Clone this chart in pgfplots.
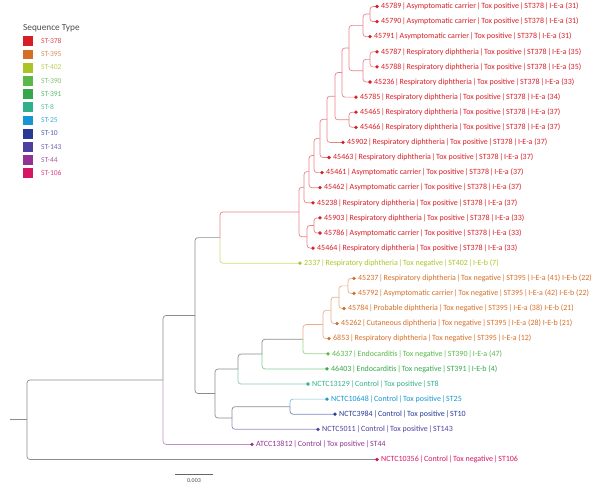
\documentclass[border=0pt]{standalone}
\usepackage{pgfplots}
\pgfplotsset{compat=1.18}
\usepackage{fontspec}
\setmainfont{Carlito}
\definecolor{c378}{RGB}{214,30,38}
\definecolor{c395}{RGB}{214,110,40}
\definecolor{c402}{RGB}{170,196,40}
\definecolor{c390}{RGB}{88,184,72}
\definecolor{c391}{RGB}{52,168,74}
\definecolor{c8}{RGB}{48,176,138}
\definecolor{c25}{RGB}{22,150,210}
\definecolor{c10}{RGB}{40,58,150}
\definecolor{c143}{RGB}{78,64,158}
\definecolor{c44}{RGB}{146,50,148}
\definecolor{c106}{RGB}{214,22,100}
\definecolor{gbr}{RGB}{140,140,140}
\newcommand{\lab}{\fontsize{8}{9}\selectfont}
\newcommand{\p}{\kern0.8bp|\kern0.8bp}
\tikzset{br/.style={line width=0.7pt, rounded corners=3bp}}
% branch: parent x, parent y, child x, child y, colour
\newcommand{\br}[5]{\addplot[br, color=#5] coordinates {(#1,#2) (#1,#4) (#3,#4)};}
% leaf: colour, x, y, label
\newcommand{\leaf}[4]{\addplot[only marks, mark=*, mark size=1.5, color=#1] coordinates {(#2,#3)};
  \node[anchor=west, text=#1, inner sep=0pt, xshift=4bp, font=\lab] at (axis cs:#2,#3) {#4};}
\newcommand{\lgd}[3]{\addplot[only marks, mark=square*, mark size=4.5, color=#1] coordinates {(28,#2)};
  \node[anchor=west, text=#1!80!white, inner sep=0pt, font=\fontsize{7.6}{8.5}\selectfont] at (axis cs:41,#2) {#3};}
\begin{document}
\begin{tikzpicture}
\begin{axis}[
  width=600bp, height=487bp, scale only axis,
  xmin=0, xmax=600, ymin=0, ymax=487, y dir=reverse,
  hide axis, clip=false]
\coordinate (BL) at (axis cs:0,487);
\coordinate (TR) at (axis cs:600,0);
% ---- legend ----
\node[anchor=west, inner sep=0pt, text=black!70, font=\fontsize{9.3}{10}\selectfont] at (axis cs:23,28) {Sequence Type};
\lgd{c378}{41}{ST-378}
\lgd{c395}{54.2}{ST-395}
\lgd{c402}{67.4}{ST-402}
\lgd{c390}{80.6}{ST-390}
\lgd{c391}{93.8}{ST-391}
\lgd{c8}{107}{ST-8}
\lgd{c25}{120.2}{ST-25}
\lgd{c10}{133.4}{ST-10}
\lgd{c143}{146.6}{ST-143}
\lgd{c44}{159.8}{ST-44}
\lgd{c106}{173}{ST-106}
% ---- tree: grey backbone ----
\addplot[br, color=gbr] coordinates {(10,419.74) (27,419.74)};
\br{27}{419.74}{163}{379.98}{gbr}
\br{27}{419.74}{377}{459.5}{gbr}
\br{163}{379.98}{195}{315.55}{gbr}
\br{163}{379.98}{252}{444.4}{c44!55!white}
\br{195}{315.55}{220}{237.6}{gbr}
\br{195}{315.55}{215}{393.5}{gbr}
\br{220}{237.6}{299}{211.99}{c378!55!white}
\br{220}{237.6}{300}{263.2}{c402!60!white}
\br{215}{393.5}{238}{369.02}{gbr}
\br{215}{393.5}{232}{417.98}{gbr}
\br{238}{369.02}{262}{354.04}{gbr}
\br{238}{369.02}{308}{384.0}{c8!60!white}
\br{262}{354.04}{303}{339.17}{gbr}
\br{262}{354.04}{327}{368.9}{c391!60!white}
\br{303}{339.17}{323}{324.54}{c395!55!white}
\br{303}{339.17}{328}{353.8}{c390!60!white}
\br{323}{324.54}{331}{310.39}{c395!55!white}
\br{323}{324.54}{329}{338.7}{c395!55!white}
\br{331}{310.39}{339}{297.18}{c395!55!white}
\br{331}{310.39}{337}{323.6}{c395!55!white}
\br{339}{297.18}{348}{285.85}{c395!55!white}
\br{339}{297.18}{344}{308.5}{c395!55!white}
\br{348}{285.85}{354}{278.3}{c395!55!white}
\br{348}{285.85}{354}{293.4}{c395!55!white}
\br{232}{417.98}{290}{406.65}{gbr}
\br{232}{417.98}{318}{429.3}{c143!60!white}
\br{290}{406.65}{327}{399.1}{c25!60!white}
\br{290}{406.65}{335}{414.2}{c10!60!white}
% ---- ST378 clade ----
\br{299}{211.99}{304}{187.2}{c378!55!white}
\br{299}{211.99}{307}{236.78}{c378!55!white}
\br{307}{236.78}{314}{225.45}{c378!55!white}
\br{307}{236.78}{313}{248.1}{c378!55!white}
\br{314}{225.45}{320}{217.9}{c378!55!white}
\br{314}{225.45}{320}{233.0}{c378!55!white}
\br{304}{187.2}{309}{171.6}{c378!55!white}
\br{304}{187.2}{313}{202.8}{c378!55!white}
\br{309}{171.6}{314}{155.49}{c378!55!white}
\br{309}{171.6}{320}{187.7}{c378!55!white}
\br{314}{155.49}{320}{138.39}{c378!55!white}
\br{314}{155.49}{322}{172.6}{c378!55!white}
\br{320}{138.39}{327}{119.28}{c378!55!white}
\br{320}{138.39}{329}{157.5}{c378!55!white}
\br{327}{119.28}{335}{96.156}{c378!55!white}
\br{327}{119.28}{343}{142.4}{c378!55!white}
\br{335}{96.156}{342}{72.5625}{c378!55!white}
\br{335}{96.156}{349}{119.75}{c378!55!white}
\br{349}{119.75}{356}{112.2}{c378!55!white}
\br{349}{119.75}{356}{127.3}{c378!55!white}
\br{342}{72.5625}{349}{48.025}{c378!55!white}
\br{342}{72.5625}{356}{97.1}{c378!55!white}
\br{349}{48.025}{363}{25.375}{c378!55!white}
\br{349}{48.025}{363}{70.675}{c378!55!white}
\br{363}{25.375}{370}{14.05}{c378!55!white}
\br{363}{25.375}{370}{36.7}{c378!55!white}
\br{370}{14.05}{377}{6.5}{c378!55!white}
\br{370}{14.05}{377}{21.6}{c378!55!white}
\br{363}{70.675}{370}{59.35}{c378!55!white}
\br{363}{70.675}{370}{82.0}{c378!55!white}
\br{370}{59.35}{377}{51.8}{c378!55!white}
\br{370}{59.35}{377}{66.9}{c378!55!white}
% ---- leaves ----
\leaf{c378}{377}{6.5}{45789\p Asymptomatic carrier\p Tox positive\p ST378\p I-E-a (31)}
\leaf{c378}{377}{21.6}{45790\p Asymptomatic carrier\p Tox positive\p ST378\p I-E-a (31)}
\leaf{c378}{370}{36.7}{45791\p Asymptomatic carrier\p Tox positive\p ST378\p I-E-a (31)}
\leaf{c378}{377}{51.8}{45787\p Respiratory diphtheria\p Tox positive\p ST378\p I-E-a (35)}
\leaf{c378}{377}{66.9}{45788\p Respiratory diphtheria\p Tox positive\p ST378\p I-E-a (35)}
\leaf{c378}{370}{82.0}{45236\p Respiratory diphtheria\p Tox positive\p ST378\p I-E-a (33)}
\leaf{c378}{356}{97.1}{45785\p Respiratory diphtheria\p Tox positive\p ST378\p I-E-a (34)}
\leaf{c378}{356}{112.2}{45465\p Respiratory diphtheria\p Tox positive\p ST378\p I-E-a (37)}
\leaf{c378}{356}{127.3}{45466\p Respiratory diphtheria\p Tox positive\p ST378\p I-E-a (37)}
\leaf{c378}{343}{142.4}{45902\p Respiratory diphtheria\p Tox positive\p ST378\p I-E-a (37)}
\leaf{c378}{329}{157.5}{45463\p Respiratory diphtheria\p Tox positive\p ST378\p I-E-a (37)}
\leaf{c378}{322}{172.6}{45461\p Asymptomatic carrier\p Tox positive\p ST378\p I-E-a (37)}
\leaf{c378}{320}{187.7}{45462\p Asymptomatic carrier\p Tox positive\p ST378\p I-E-a (37)}
\leaf{c378}{313}{202.8}{45238\p Respiratory diphtheria\p Tox positive\p ST378\p I-E-a (37)}
\leaf{c378}{320}{217.9}{45903\p Respiratory diphtheria\p Tox positive\p ST378\p I-E-a (33)}
\leaf{c378}{320}{233.0}{45786\p Asymptomatic carrier\p Tox positive\p ST378\p I-E-a (33)}
\leaf{c378}{313}{248.1}{45464\p Respiratory diphtheria\p Tox positive\p ST378\p I-E-a (33)}
\leaf{c402}{300}{263.2}{2337\p Respiratory diphtheria\p Tox negative\p ST402\p I-E-b (7)}
\leaf{c395}{354}{278.3}{45237\p Respiratory diphtheria\p Tox negative\p ST395\p I-E-a (41) I-E-b (22)}
\leaf{c395}{354}{293.4}{45792\p Asymptomatic carrier\p Tox negative\p ST395\p I-E-a (42) I-E-b (22)}
\leaf{c395}{344}{308.5}{45784\p Probable diphtheria\p Tox negative\p ST395\p I-E-a (38) I-E-b (21)}
\leaf{c395}{337}{323.6}{45262\p Cutaneous diphtheria\p Tox negative\p ST395\p I-E-a (28) I-E-b (21)}
\leaf{c395}{329}{338.7}{6853\p Respiratory diphtheria\p Tox negative\p ST395\p I-E-a (12)}
\leaf{c390}{328}{353.8}{46337\p Endocarditis\p Tox negative\p ST390\p I-E-a (47)}
\leaf{c391}{327}{368.9}{46403\p Endocarditis\p Tox negative\p ST391\p I-E-b (4)}
\leaf{c8}{308}{384.0}{NCTC13129\p Control\p Tox positive\p ST8}
\leaf{c25}{327}{399.1}{NCTC10648\p Control\p Tox positive\p ST25}
\leaf{c10}{335}{414.2}{NCTC3984\p Control\p Tox positive\p ST10}
\leaf{c143}{318}{429.3}{NCTC5011\p Control\p Tox positive\p ST143}
\leaf{c44}{252}{444.4}{ATCC13812\p Control\p Tox positive\p ST44}
\leaf{c106}{377}{459.5}{NCTC10356\p Control\p Tox negative\p ST106}
% ---- scale bar ----
\addplot[line width=0.7pt, color=black!60] coordinates {(175,474) (213,474)};
\node[inner sep=0pt, text=black!70, font=\fontsize{6}{7}\selectfont] at (axis cs:194,481) {0.003};
\end{axis}
\pgfresetboundingbox
\path[use as bounding box] (BL) rectangle (TR);
\end{tikzpicture}
\end{document}
